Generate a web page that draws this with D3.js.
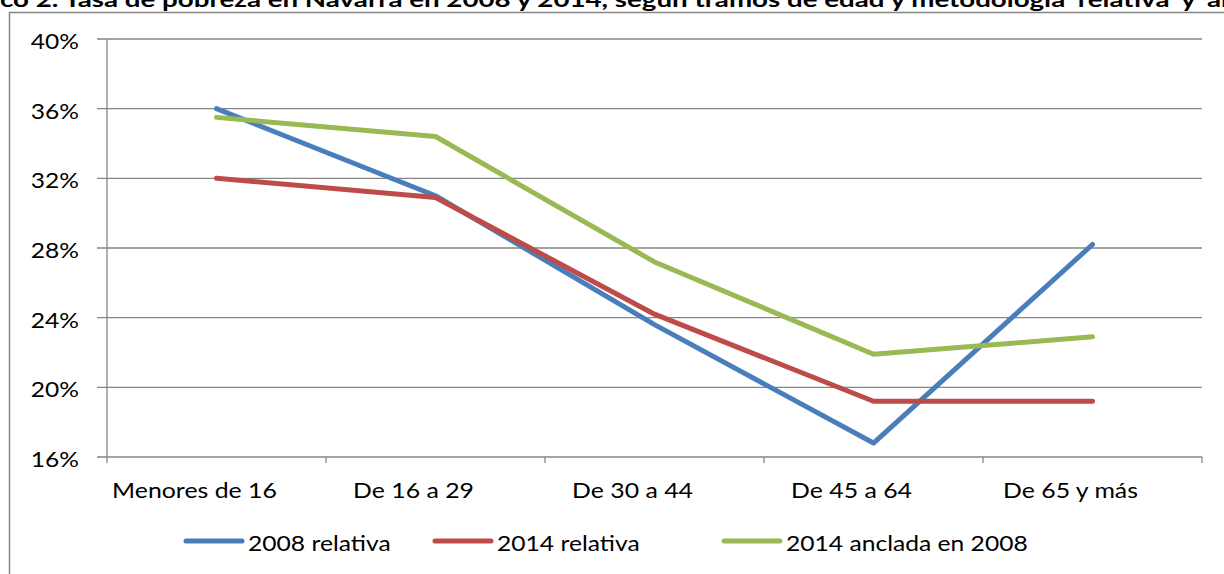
<!DOCTYPE html>
<html>
<head>
<meta charset="utf-8">
<script src="https://cdn.jsdelivr.net/npm/d3@7"></script>
<style>
  html, body { margin: 0; padding: 0; background: #fff; overflow: hidden; }
  svg { display: block; font-family: Lato, "Open Sans", sans-serif; }
</style>
</head>
<body>
<div class="chart"></div>
<script>
const title = "Gráfico 2. Tasa de pobreza en Navarra en 2008 y 2014, según tramos de edad y metodología 'relativa' y 'anclada'";
const categories = ['Menores de 16', 'De 16 a 29', 'De 30 a 44', 'De 45 a 64', 'De 65 y más'];
const rel2008 = [36.0, 31.0, 23.6, 16.8, 28.2];
const rel2014 = [32.0, 30.9, 24.2, 19.2, 19.2];
const anc2014 = [35.5, 34.4, 27.2, 21.9, 22.9];
const seriesNames = ['2008 relativa', '2014 relativa', '2014 anclada en 2008'];
const yTicks = [16, 20, 24, 28, 32, 36, 40];

(function() {
  'use strict';

  let width = 1224,
      height = 574,
      colors = ['#4a7ebb', '#be4b48', '#98b954'],
      grid = '#868686',
      stretch = 1.17,

      svg = d3.select('.chart')
        .append('svg')
        .attr('width', width)
        .attr('height', height),

      x = d3.scaleBand()
        .domain(categories)
        .range([107, 1202]),

      y = d3.scaleLinear()
        .domain([16, 40])
        .range([457, 39]),

      // text drawn a bit wider, like the original export
      wideText = (sel, tx, ty, sx) => {
        sel.attr('transform', `translate(${tx},${ty}) scale(${sx},1)`);
      };

  // Title (clipped at the top of the picture)
  let t = svg.append('text')
    .attr('font-weight', 'bold')
    .attr('font-size', 20)
    .attr('fill', '#000')
    .text(title);
  let probe = svg.append('text')
    .attr('font-weight', 'bold')
    .attr('font-size', 20)
    .text('Gráfi');
  let pre = probe.node().getComputedTextLength();
  probe.text("co 2. Tasa de pobreza en Navarra en 2008 y 2014, según tramos de edad y metodología 'relativa' y 'a");
  let part = probe.node().getComputedTextLength();
  probe.remove();
  let sx = 1222 / part;
  wideText(t, -pre * sx, 6.5, sx);

  // Outer chart border
  svg.append('path')
    .attr('d', `M9.5,${height}V12.5H${width}`)
    .attr('fill', 'none')
    .attr('stroke', grid)
    .attr('stroke-width', 1.5);

  // Gridlines
  svg.append('g')
    .selectAll('line')
    .data(yTicks)
    .enter()
    .append('line')
      .attr('x1', 97)
      .attr('x2', 1202)
      .attr('y1', d => y(d))
      .attr('y2', d => y(d))
      .attr('stroke', grid)
      .attr('stroke-width', 1.3);

  // Y axis line
  svg.append('line')
    .attr('x1', 107).attr('x2', 107)
    .attr('y1', y(40)).attr('y2', y(16) + 6)
    .attr('stroke', grid)
    .attr('stroke-width', 1.3);

  // X ticks
  svg.append('g')
    .selectAll('line')
    .data(categories)
    .enter()
    .append('line')
      .attr('x1', d => x(d) + x.bandwidth())
      .attr('x2', d => x(d) + x.bandwidth())
      .attr('y1', y(16))
      .attr('y2', y(16) + 6)
      .attr('stroke', grid)
      .attr('stroke-width', 1.3);

  // Y labels
  svg.append('g')
    .selectAll('text')
    .data(yTicks)
    .enter()
    .append('text')
      .attr('font-size', 21)
      .attr('text-anchor', 'end')
      .attr('fill', '#000')
      .text(d => d + '%')
      .each(function(d) { wideText(d3.select(this), 79, y(d) + 10, stretch); });

  // X labels
  svg.append('g')
    .selectAll('text')
    .data(categories)
    .enter()
    .append('text')
      .attr('font-size', 22)
      .attr('text-anchor', 'middle')
      .attr('fill', '#000')
      .text(d => d)
      .each(function(d) { wideText(d3.select(this), x(d) + x.bandwidth() / 2 - 22, 498, 1.13); });

  // Lines
  let line = d3.line()
    .x((d, i) => x(categories[i]) + x.bandwidth() / 2)
    .y(d => y(d));

  svg.append('g')
    .selectAll('path')
    .data([rel2008, rel2014, anc2014])
    .enter()
    .append('path')
      .attr('d', line)
      .attr('fill', 'none')
      .attr('stroke', (d, i) => colors[i])
      .attr('stroke-width', 5)
      .attr('stroke-linejoin', 'round')
      .attr('stroke-linecap', 'round');

  // Legend
  let legendX = [186, 435, 724],
      legendStretch = 1.12,
      legend = svg.append('g');
  seriesNames.forEach((name, i) => {
    let lx = legendX[i];
    legend.append('line')
      .attr('x1', lx).attr('x2', lx + 56)
      .attr('y1', 541).attr('y2', 541)
      .attr('stroke', colors[i])
      .attr('stroke-width', 5)
      .attr('stroke-linecap', 'round');
    let lt = legend.append('text')
      .attr('font-size', 22)
      .attr('fill', '#000')
      .text(name);
    wideText(lt, lx + 62, 551, legendStretch);
  });

})();
</script>
</body>
</html>
